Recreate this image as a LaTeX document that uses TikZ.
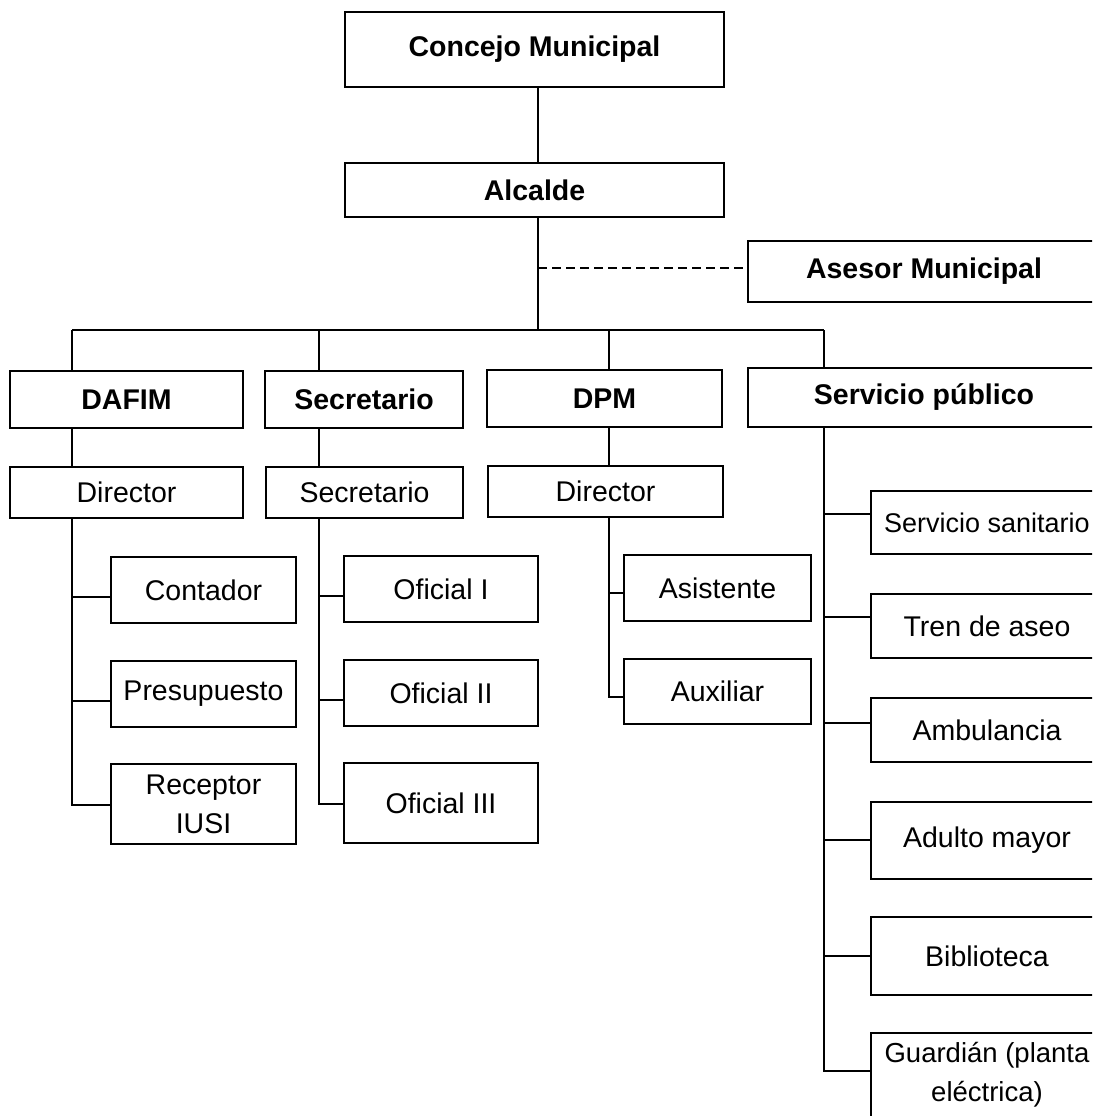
\documentclass[tikz,border=0pt]{standalone}
\usepackage{fontspec}
\setmainfont{Liberation Sans}
\begin{document}
\begin{tikzpicture}[x=1pt,y=-1pt,
  line width=2pt,
  every node/.style={font=\fontsize{28.5}{39}\selectfont},
  box/.style={draw, rectangle, inner sep=0pt, align=center},
  bbox/.style={box, font=\fontsize{28.5}{39}\selectfont\bfseries},
  conn/.style={line width=2pt},
  dashline/.style={line width=2pt, dash pattern=on 9pt off 5pt}]
\useasboundingbox (0,0) rectangle (1092,1116);
\clip (0,0) rectangle (1092,1116);
\fill[white] (0,0) rectangle (1092,1116);

% top levels
\node[bbox, minimum width=379pt, minimum height=75pt] (concejo) at (534.5,49.5) {Concejo Municipal};
\node[bbox, minimum width=379pt, minimum height=54pt] (alcalde) at (534.5,190) {Alcalde};
\node[bbox, minimum width=352pt, minimum height=61pt] (asesor) at (924,271.5) {Asesor Municipal};

% departments
\node[bbox, minimum width=233pt, minimum height=57pt] (dafim) at (126.5,399.5) {DAFIM};
\node[bbox, minimum width=198pt, minimum height=57pt] (secb) at (364,399.5) {Secretario};
\node[bbox, minimum width=235pt, minimum height=57pt] (dpm) at (604.5,398.5) {DPM};
\node[bbox, minimum width=352pt, minimum height=59pt] (serv) at (924,397.5) {Servicio público};

% heads
\node[box, minimum width=233pt, minimum height=51pt] (dir1) at (126.5,492.5) {Director};
\node[box, minimum width=197pt, minimum height=51pt] (sec2) at (364.5,492.5) {Secretario};
\node[box, minimum width=235pt, minimum height=51pt] (dir2) at (605.5,491.5) {Director};

% DAFIM staff
\node[box, minimum width=185pt, minimum height=66pt] (contador) at (203.5,590) {Contador};
\node[box, minimum width=185pt, minimum height=66pt] (presup) at (203.5,694) {Presupuesto};
\node[box, minimum width=185pt, minimum height=80pt] (receptor) at (203.5,804) {Receptor\\IUSI};

% Secretario staff
\node[box, minimum width=194pt, minimum height=66pt] (of1) at (441,589) {Oficial I};
\node[box, minimum width=194pt, minimum height=66pt] (of2) at (441,693) {Oficial II};
\node[box, minimum width=194pt, minimum height=80pt] (of3) at (441,803) {Oficial III};

% DPM staff
\node[box, minimum width=187pt, minimum height=66pt] (asist) at (717.5,588) {Asistente};
\node[box, minimum width=187pt, minimum height=65pt] (aux) at (717.5,691.5) {Auxiliar};

% Servicio publico staff
\node[box, minimum width=232pt, minimum height=63pt, font=\fontsize{27}{39}\selectfont] (sanit) at (987,522.5) {Servicio sanitario};
\node[box, minimum width=232pt, minimum height=64pt] (tren) at (987,626) {Tren de aseo};
\node[box, minimum width=232pt, minimum height=64pt] (ambul) at (987,730) {Ambulancia};
\node[box, minimum width=232pt, minimum height=77pt] (adulto) at (987,840.5) {Adulto mayor};
\node[box, minimum width=232pt, minimum height=78pt] (biblio) at (987,956) {Biblioteca};
\node[box, minimum width=232pt, minimum height=84pt, font=\fontsize{27.5}{39}\selectfont] (guard) at (987,1075) {Guardián (planta\\eléctrica)};

% coordinates of the bus
\coordinate (bus) at (538,330);
\coordinate (t1) at (72,330);
\coordinate (t2) at (319,330);
\coordinate (t3) at (609,330);
\coordinate (t4) at (824,330);
\coordinate (dsh) at (538,268);

% main trunk
\draw[conn] (concejo.south -| bus) -- (alcalde.north -| bus);
\draw[conn] (alcalde.south -| bus) -- (bus);
\draw[dashline] (dsh) -- (asesor.west |- dsh);
\draw[conn] (t1) -- (t4);
\draw[conn] (t1) -- (t1 |- dafim.north);
\draw[conn] (t2) -- (t2 |- secb.north);
\draw[conn] (t3) -- (t3 |- dpm.north);
\draw[conn] (t4) -- (t4 |- serv.north);

% department to head
\draw[conn] (t1 |- dafim.south) -- (t1 |- dir1.north);
\draw[conn] (t2 |- secb.south) -- (t2 |- sec2.north);
\draw[conn] (t3 |- dpm.south) -- (t3 |- dir2.north);

% DAFIM tree
\draw[conn] (t1 |- dir1.south) |- ([yshift=-1pt]receptor.west);
\draw[conn] (t1 |- contador.west) ++(0,7) -- ([yshift=-7pt]contador.west);
\draw[conn] (t1 |- presup.west) ++(0,7) -- ([yshift=-7pt]presup.west);

% Secretario tree
\draw[conn] (t2 |- sec2.south) |- ([yshift=-1pt]of3.west);
\draw[conn] (t2 |- of1.west) ++(0,7) -- ([yshift=-7pt]of1.west);
\draw[conn] (t2 |- of2.west) ++(0,7) -- ([yshift=-7pt]of2.west);

% DPM tree
\draw[conn] (t3 |- dir2.south) |- ([yshift=-5pt]aux.west);
\draw[conn] (t3 |- asist.west) ++(0,5) -- ([yshift=-5pt]asist.west);

% Servicio publico tree
\draw[conn] (t4 |- serv.south) |- ([yshift=4pt]guard.west);
\draw[conn] (t4 |- sanit.west) ++(0,-8.5) -- ([yshift=8.5pt]sanit.west);
\draw[conn] (t4 |- tren.west) ++(0,-9) -- ([yshift=9pt]tren.west);
\draw[conn] (t4 |- ambul.west) ++(0,-7) -- ([yshift=7pt]ambul.west);
\draw[conn] (t4 |- adulto.west) ++(0,-0.5) -- ([yshift=0.5pt]adulto.west);
\draw[conn] (t4 |- biblio.west) -- (biblio.west);
\end{tikzpicture}
\end{document}
